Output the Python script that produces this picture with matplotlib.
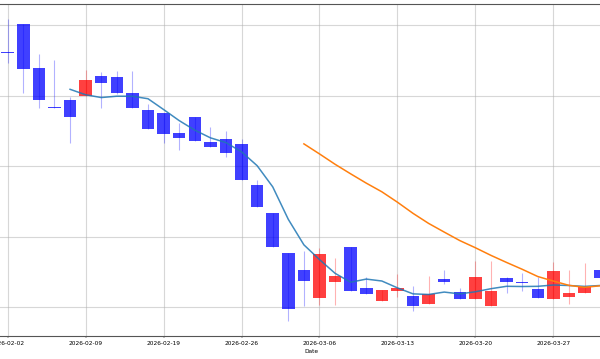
import matplotlib
matplotlib.use("Agg")
import matplotlib.pyplot as plt
import numpy as np
import pandas as pd

# Trading dates (one per candle)
dates = ["2026-02-02", "2026-02-03", "2026-02-04", "2026-02-05", "2026-02-06",
         "2026-02-09", "2026-02-10", "2026-02-11", "2026-02-12", "2026-02-13",
         "2026-02-19", "2026-02-20", "2026-02-23", "2026-02-24", "2026-02-25",
         "2026-02-26", "2026-02-27", "2026-03-03", "2026-03-04", "2026-03-05",
         "2026-03-06", "2026-03-09", "2026-03-10", "2026-03-11", "2026-03-12",
         "2026-03-13", "2026-03-16", "2026-03-17", "2026-03-18", "2026-03-19",
         "2026-03-20", "2026-03-23", "2026-03-24", "2026-03-25", "2026-03-26",
         "2026-03-27", "2026-03-30", "2026-03-31", "2026-04-01"]

opens = [96.20, 100.14, 93.86, 88.37, 89.40, 89.97, 92.81, 92.62, 90.40, 87.94,
         87.56, 84.75, 86.99, 83.36, 83.79, 83.16, 77.35, 73.33, 67.70, 65.21,
         61.23, 63.50, 68.55, 62.65, 60.89, 62.34, 61.56, 60.43, 63.93, 62.09,
         61.09, 60.14, 64.11, 63.57, 62.55, 61.09, 61.46, 61.94, 65.25]
highs = [100.81, 100.21, 95.84, 95.04, 89.83, 93.62, 93.38, 93.48, 93.48, 88.79,
         87.56, 86.14, 86.99, 85.57, 84.96, 83.79, 78.01, 73.33, 67.70, 67.99,
         68.33, 66.91, 68.55, 64.26, 62.37, 64.68, 62.98, 64.40, 65.25, 62.74,
         66.57, 66.57, 64.30, 64.87, 64.21, 66.43, 65.25, 66.20, 65.25]
lows = [94.65, 90.40, 88.18, 88.16, 83.30, 89.97, 88.18, 90.28, 88.16, 85.18,
        83.22, 82.27, 83.50, 82.74, 81.32, 78.01, 74.14, 68.54, 57.97, 60.14,
        60.28, 60.28, 62.23, 61.89, 60.89, 61.46, 59.48, 60.43, 63.22, 61.09,
        61.09, 60.14, 61.94, 62.31, 61.23, 61.09, 60.43, 61.94, 64.07]
closes = [96.06, 93.80, 89.36, 88.23, 86.95, 92.20, 91.82, 90.31, 88.18, 85.21,
          84.54, 83.97, 83.55, 82.74, 81.80, 78.01, 74.14, 68.54, 59.67, 63.73,
          67.56, 64.40, 62.23, 61.89, 62.37, 62.70, 60.14, 61.80, 63.59, 61.09,
          64.21, 62.31, 63.50, 63.43, 61.23, 65.15, 61.94, 62.88, 64.07]

yticks = [60, 70, 80, 90, 100]
tick_step = 5

s = 0.425  # overall scale of text/lines
fig = plt.figure(figsize=(6, 3.59), dpi=100)
ax = fig.add_axes([-7.9 / 600, 23 / 359, 639.2 / 600, 332 / 359])

x = np.arange(len(dates))
o = np.array(opens); c = np.array(closes)
h = np.array(highs); l = np.array(lows)
up = c >= o
cols = np.where(up, "#ff0000", "#0000ff")

ax.vlines(x, l, h, colors=cols, alpha=0.3, linewidth=0.8, zorder=2)
body_h = np.abs(c - o)
body_h = np.maximum(body_h, 0.12)
ax.bar(x, body_h, bottom=np.minimum(o, c), width=0.8, color=cols, alpha=0.75,
       linewidth=0, zorder=3)

cs = pd.Series(closes)
ma5 = cs.rolling(5).mean()
ma20 = cs.rolling(20).mean()
ax.plot(x, ma5, color="#1f77b4", lw=1.1, alpha=0.85, zorder=4)
ax.plot(x, ma20, color="#ff7f0e", lw=1.1, zorder=4)

ax.set_xlim(-1, 40)
ax.set_ylim(55.89, 102.98)
ax.set_yticks(yticks)
ax.set_xticks(x[::tick_step])
ax.set_xticklabels([dates[i] for i in x[::tick_step]])
ax.tick_params(axis="both", labelsize=10 * s, length=3.5 * s, width=0.8 * s,
               pad=1.9)
ax.set_xlabel("Date", fontsize=10 * s, labelpad=2.4)
ax.grid(True, color="#b0b0b0", lw=0.8, alpha=0.5, zorder=0)
ax.set_axisbelow(True)
for sp in ax.spines.values():
    sp.set_linewidth(0.8)
    sp.set_color("#555555")

fig.savefig("out.png", dpi=100)
